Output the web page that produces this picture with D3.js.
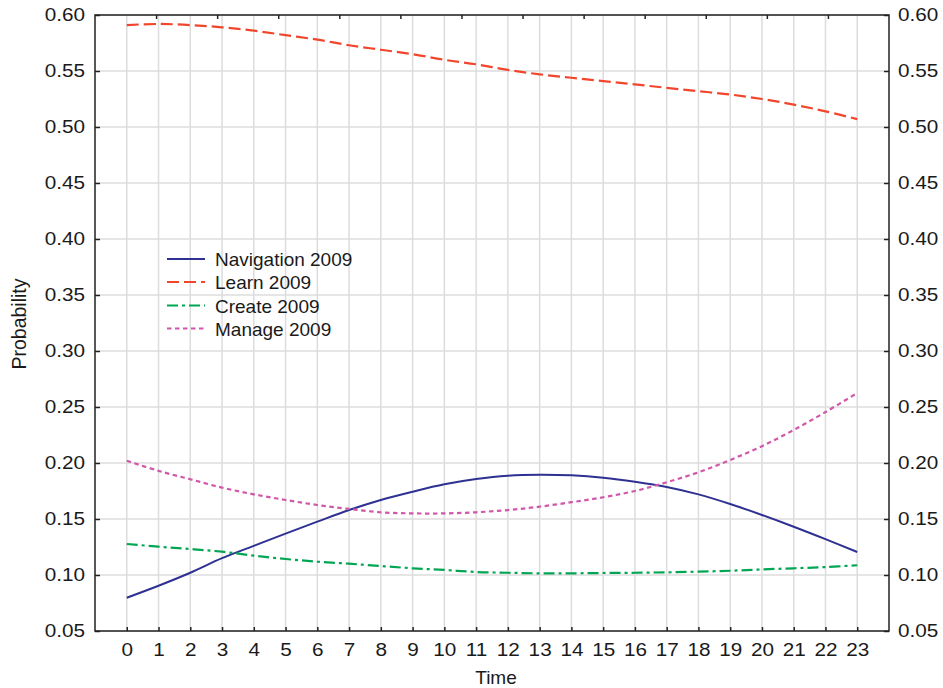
<!DOCTYPE html>
<html>
<head>
<meta charset="utf-8">
<script src="https://cdn.jsdelivr.net/npm/d3@7"></script>
<style>
  html, body { margin: 0; padding: 0; background: #fff; }
  svg { display: block; font-family: "Liberation Sans", Arial, sans-serif; }
</style>
</head>
<body>
<svg id="chart" width="943" height="688"></svg>
<script>
// Hours of the day
const hours = d3.range(0, 24);

// Probability of each activity by hour (2009)
const navigation = [0.0797, 0.0904, 0.102, 0.115, 0.126, 0.137, 0.1476, 0.158, 0.167,
  0.1744, 0.181, 0.1857, 0.1887, 0.1896, 0.189, 0.1869, 0.1833, 0.1786, 0.172,
  0.1634, 0.1536, 0.1431, 0.132, 0.1205];
const learn = [0.591, 0.592, 0.591, 0.589, 0.586, 0.582, 0.578, 0.573, 0.569, 0.565,
  0.560, 0.556, 0.551, 0.547, 0.544, 0.541, 0.538, 0.535, 0.532, 0.529, 0.525,
  0.520, 0.514, 0.507];
const create = [0.1277, 0.1253, 0.1232, 0.1208, 0.1173, 0.1143, 0.1119, 0.1101, 0.108,
  0.106, 0.1045, 0.1027, 0.102, 0.1015, 0.1015, 0.1018, 0.102, 0.1024, 0.103,
  0.1038, 0.105, 0.106, 0.1071, 0.1087];
const manage = [0.202, 0.193, 0.1855, 0.178, 0.172, 0.167, 0.1625, 0.159, 0.156, 0.155,
  0.155, 0.156, 0.158, 0.161, 0.165, 0.1694, 0.175, 0.1828, 0.1917, 0.2027,
  0.215, 0.2295, 0.2455, 0.2625];

const seriesNames = ["Navigation 2009", "Learn 2009", "Create 2009", "Manage 2009"];
const seriesValues = [navigation, learn, create, manage];
const yTicks = d3.range(0.05, 0.6001, 0.05);

const styles = [
  { color: "#2e3192", dash: null, width: 2 },
  { color: "#f2462c", dash: "12,5", width: 2.2 },
  { color: "#00a651", dash: "11,4,3,4", width: 2.2 },
  { color: "#d157a9", dash: "4.5,3.5", width: 2.2 }
];

const svg = d3.select("#chart");
const L = 95, R = 889, T = 15, B = 631;
const STRETCH = 1.12; // tick labels are drawn slightly wide

const x = d3.scaleLinear().domain([-1, 24]).range([L, R]);
const y = d3.scaleLinear().domain([0.05, 0.60]).range([B, T]);
const xTop = d3.scaleLinear().domain([0, 13]).range([L, R]);

// Grid
const grid = svg.append("g").attr("stroke", "#dcdcdc").attr("stroke-width", 1.5);
grid.selectAll("line.v").data(hours).join("line")
  .attr("x1", d => x(d)).attr("x2", d => x(d)).attr("y1", T).attr("y2", B);
grid.selectAll("line.h").data(yTicks).join("line")
  .attr("x1", L).attr("x2", R).attr("y1", d => y(d)).attr("y2", d => y(d));

// Series
const line = d3.line()
  .x((d, i) => x(hours[i]))
  .y(d => y(d))
  .curve(d3.curveCatmullRom);

svg.append("g").selectAll("path").data(seriesValues).join("path")
  .attr("d", d => line(d))
  .attr("fill", "none")
  .attr("stroke", (d, i) => styles[i].color)
  .attr("stroke-width", (d, i) => styles[i].width)
  .attr("stroke-dasharray", (d, i) => styles[i].dash);

// Axes with inward ticks
const fmt = d3.format(".2f");
const axisStyle = g => {
  g.select(".domain").remove();
  g.selectAll(".tick line").attr("stroke", "#222").attr("stroke-width", 1.5);
  g.selectAll(".tick text").attr("fill", "#1a1a1a").attr("font-size", 18.5)
    .attr("font-family", "Liberation Sans, Arial, sans-serif")
    .each(function () {
      const t = d3.select(this);
      const x0 = +t.attr("x") || 0;
      t.attr("x", x0 / STRETCH).attr("transform", `scale(${STRETCH},1)`);
    });
};

svg.append("g").attr("transform", `translate(${L},0)`)
  .call(d3.axisLeft(y).tickValues(yTicks).tickFormat(fmt).tickSizeInner(-5).tickPadding(10))
  .call(axisStyle);

svg.append("g").attr("transform", `translate(${R},0)`)
  .call(d3.axisRight(y).tickValues(yTicks).tickFormat(fmt).tickSizeInner(-5).tickPadding(9))
  .call(axisStyle);

svg.append("g").attr("transform", `translate(0,${B})`)
  .call(d3.axisBottom(x).tickValues(hours).tickFormat(d3.format("d")).tickSizeInner(-4).tickPadding(12))
  .call(axisStyle);

svg.append("g").attr("transform", `translate(0,${T})`)
  .call(d3.axisTop(xTop).tickValues(d3.range(1, 13)).tickFormat("").tickSizeInner(-4))
  .call(axisStyle);

// Frame
svg.append("rect").attr("x", L).attr("y", T).attr("width", R - L).attr("height", B - T)
  .attr("fill", "none").attr("stroke", "#222").attr("stroke-width", 1.5);

// Axis titles
svg.append("text").attr("x", (L + R) / 2 + 4).attr("y", 684)
  .attr("text-anchor", "middle").attr("font-size", 19).attr("fill", "#1a1a1a").text("Time");
svg.append("text").attr("transform", "translate(26,324) rotate(-90)")
  .attr("text-anchor", "middle").attr("font-size", 19.5).attr("fill", "#1a1a1a").text("Probability");

// Legend
const legend = svg.append("g");
const rowY = [259, 282, 305.5, 328.5];
seriesNames.forEach((name, i) => {
  const r = legend.append("g").attr("transform", `translate(0,${rowY[i]})`);
  r.append("line").attr("x1", 167).attr("x2", 205).attr("y1", 0).attr("y2", 0)
    .attr("stroke", styles[i].color).attr("stroke-width", styles[i].width)
    .attr("stroke-dasharray", styles[i].dash);
  r.append("text").attr("x", 215).attr("y", 7).attr("font-size", 19)
    .attr("fill", "#1a1a1a").text(name);
});
</script>
</body>
</html>
